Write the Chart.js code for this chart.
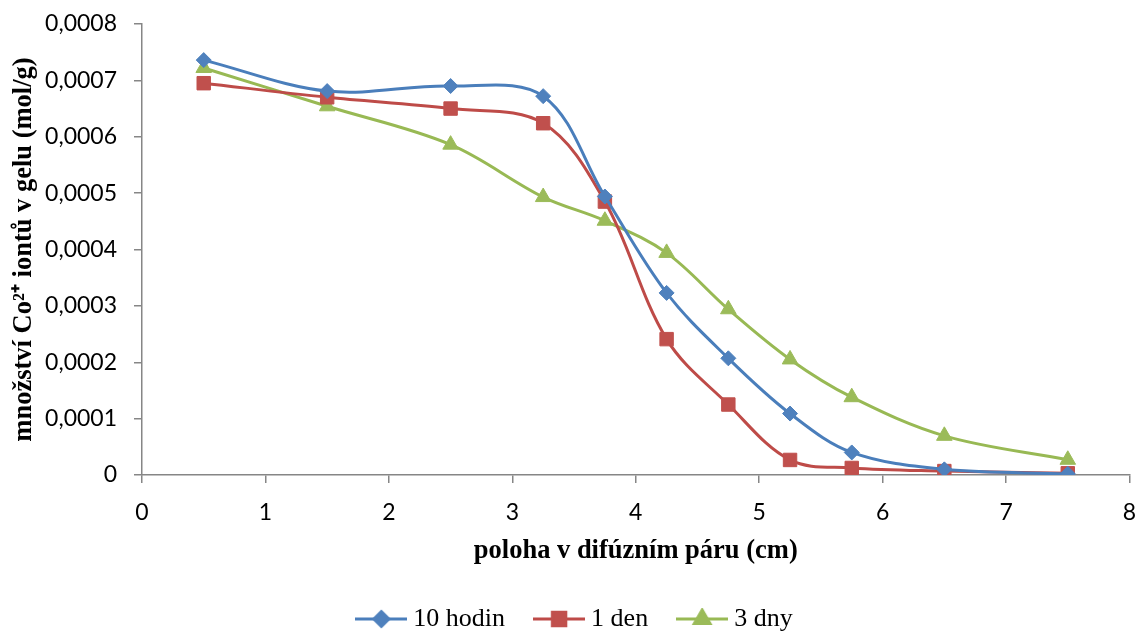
<!DOCTYPE html>
<html>
<head>
<meta charset="utf-8">
<script src="https://cdn.jsdelivr.net/npm/chart.js@4.4.1/dist/chart.umd.min.js"></script>
<style>
  html, body { margin: 0; padding: 0; background: #ffffff; }
  #wrap { width: 1140px; height: 633px; position: relative; }
</style>
</head>
<body>
<div id="wrap"><canvas id="c" width="1140" height="633"></canvas></div>
<script>
// ---- data ----
const xPositions = [0.5, 1.5, 2.5, 3.25, 3.75, 4.25, 4.75, 5.25, 5.75, 6.5, 7.5];
const seriesNames = ['10 hodin', '1 den', '3 dny'];
const hodin10 = [0.000736, 0.000681, 0.000690, 0.000672, 0.000494, 0.000323, 0.000207, 0.000109, 0.000040, 0.000010, 0.000002];
const den1    = [0.000695, 0.000670, 0.000650, 0.000624, 0.000485, 0.000241, 0.000125, 0.0000267, 0.0000125, 0.000007, 0.000003];
const dny3    = [0.000722, 0.000654, 0.000586, 0.000493, 0.000451, 0.000394, 0.000294, 0.000205, 0.000138, 0.0000695, 0.000027];
const xAxisTitle = 'poloha v difúzním páru (cm)';
const yAxisTitle = 'množství Co²⁺ iontů v gelu (mol/g)';

// ---- styles ----
const styles = [
  { line: '#4A7EBB', fill: '#4F81BD', shape: 'rectRot', r: 7.5 },
  { line: '#BE4B48', fill: '#C0504D', shape: 'rect', r: 9.5 },
  { line: '#98B954', fill: '#9BBB59', shape: 'triangle', r: 9 }
];
const axisColor = '#868686';
const serif = '"Liberation Serif", "Times New Roman", serif';

function pairs(vals) { return xPositions.map((x, i) => ({ x: x, y: vals[i] })); }

function legendImage(st) {
  const c = document.createElement('canvas');
  c.width = 52; c.height = 22;
  const ctx = c.getContext('2d');
  ctx.strokeStyle = st.line; ctx.lineWidth = 3;
  ctx.beginPath(); ctx.moveTo(0, 11); ctx.lineTo(52, 11); ctx.stroke();
  ctx.fillStyle = st.fill; ctx.strokeStyle = st.fill;
  Chart.helpers.drawPoint(ctx, { pointStyle: st.shape, radius: st.r, rotation: 0, borderWidth: 1 }, 26, 11);
  return c;
}
const legendImgs = styles.map(legendImage);

const allSeries = [hodin10, den1, dny3];
const datasets = allSeries.map((vals, i) => ({
  label: seriesNames[i],
  data: pairs(vals),
  borderColor: styles[i].line,
  backgroundColor: styles[i].fill,
  borderWidth: 3,
  pointStyle: styles[i].shape,
  pointRadius: styles[i].r,
  pointBorderColor: styles[i].fill,
  pointBackgroundColor: styles[i].fill,
  pointBorderWidth: 1,
  tension: 0.35,
  fill: false
}));

const noScalePadding = (s) => { s.paddingTop = 0; s.paddingBottom = 0; s.paddingLeft = 0; s.paddingRight = 0; };

const legendShift = {
  id: 'legendShift',
  afterLayout(chart) {
    const l = chart.legend;
    if (l) { l.left += 12; l.right += 12; }
  }
};

new Chart(document.getElementById('c'), {
  type: 'line',
  data: { datasets: datasets },
  plugins: [legendShift],
  options: {
    responsive: false,
    animation: false,
    layout: { padding: { left: 0, right: 9, top: 24, bottom: -9 } },
    plugins: {
      tooltip: { enabled: false },
      legend: {
        position: 'bottom',
        labels: {
          usePointStyle: true,
          pointStyleWidth: 38,
          padding: 35,
          color: '#000',
          font: { family: serif, size: 26 },
          generateLabels(chart) {
            const items = Chart.defaults.plugins.legend.labels.generateLabels(chart);
            items.forEach((it, i) => { it.pointStyle = legendImgs[i]; });
            return items;
          }
        }
      }
    },
    scales: {
      x: {
        type: 'linear',
        min: 0, max: 8,
        afterFit(s) { s.height = 96; noScalePadding(s); },
        border: { color: axisColor, width: 1.5 },
        grid: { drawOnChartArea: false, drawTicks: true, tickLength: 8, color: axisColor, lineWidth: 1.5 },
        ticks: { stepSize: 1, padding: 16, color: '#000', font: { family: 'Lato', size: 23 } },
        title: {
          display: true, text: xAxisTitle, color: '#000',
          font: { family: serif, size: 26.5, weight: 'bold' },
          padding: { top: 0, bottom: 4 }
        }
      },
      y: {
        type: 'linear',
        min: 0, max: 0.0008,
        afterFit(s) { s.width = 142; noScalePadding(s); },
        border: { color: axisColor, width: 1.5 },
        grid: { drawOnChartArea: false, drawTicks: true, tickLength: 8, color: axisColor, lineWidth: 1.5 },
        ticks: {
          stepSize: 0.0001, padding: 17, color: '#000', font: { family: 'Lato', size: 23 },
          callback: (v) => (Math.abs(v) < 1e-12 ? '0' : v.toFixed(4).replace('.', ','))
        },
        title: {
          display: true, text: yAxisTitle, color: '#000',
          font: { family: serif, size: 26.5, weight: 'bold' },
          padding: { top: 8, bottom: 0 }
        }
      }
    }
  }
});
</script>
</body>
</html>
